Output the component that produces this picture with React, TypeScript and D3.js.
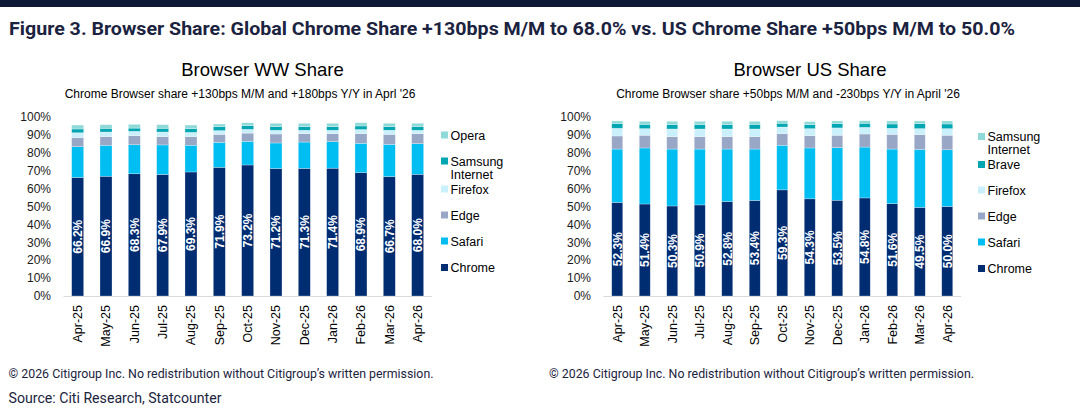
import React from 'react'
import * as d3 from 'd3'

// months on the x axis (same for both panels)
const months = ['Apr-25', 'May-25', 'Jun-25', 'Jul-25', 'Aug-25', 'Sep-25', 'Oct-25', 'Nov-25', 'Dec-25', 'Jan-26', 'Feb-26', 'Mar-26', 'Apr-26']

// worldwide share, %
const wwChrome = [66.2, 66.9, 68.3, 67.9, 69.3, 71.9, 73.2, 71.2, 71.3, 71.4, 68.9, 66.7, 68.0]
const wwSafari = [17.2, 17.3, 16.2, 16.5, 14.9, 13.9, 13.2, 14.3, 14.7, 14.8, 16.4, 18.0, 17.1]
const wwEdge = [5.1, 4.8, 5.1, 4.6, 4.8, 4.5, 4.6, 5.0, 4.7, 4.5, 5.4, 5.6, 5.6]
const wwFirefox = [2.7, 2.6, 2.4, 2.6, 2.4, 2.1, 2.1, 2.1, 1.9, 1.9, 2.3, 2.3, 1.9]
const wwSamsung = [2.1, 2.1, 1.8, 2.1, 2.1, 2.2, 2.1, 2.0, 2.0, 2.0, 2.0, 2.0, 2.0]
const wwOpera = [2.2, 2.0, 2.1, 2.0, 2.0, 1.5, 1.6, 1.9, 1.9, 1.9, 1.8, 1.9, 1.9]

// US share, %
const usChrome = [52.3, 51.4, 50.3, 50.9, 52.8, 53.4, 59.3, 54.3, 53.5, 54.8, 51.6, 49.5, 50.0]
const usSafari = [29.8, 31.3, 31.8, 31.2, 29.3, 28.7, 24.9, 28.4, 29.4, 28.4, 30.5, 32.4, 31.7]
const usEdge = [7.3, 7.1, 6.9, 6.9, 6.9, 6.9, 6.5, 6.9, 6.9, 7.3, 8.2, 8.2, 8.1]
const usFirefox = [4.3, 3.7, 4.3, 4.3, 4.3, 4.3, 3.7, 3.9, 4.1, 3.7, 3.4, 3.4, 3.7]
const usBrave = [2.6, 2.4, 2.4, 2.4, 2.4, 2.6, 2.1, 2.2, 2.4, 2.3, 2.4, 2.8, 2.6]
const usSamsung = [1.5, 1.7, 1.9, 1.9, 1.9, 1.7, 1.4, 1.7, 1.5, 1.4, 1.7, 1.5, 1.7]

const C = {
  chrome: '#002D72',
  safari: '#00BDF2',
  edge: '#99A7C7',
  firefox: '#C9F0FB',
  teal: '#00A7B2',
  lightTeal: '#8FDAD8',
}

type Series = { key: string; label: string[]; color: string; values: number[] }

const wwSeries: Series[] = [
  { key: 'chrome', label: ['Chrome'], color: C.chrome, values: wwChrome },
  { key: 'safari', label: ['Safari'], color: C.safari, values: wwSafari },
  { key: 'edge', label: ['Edge'], color: C.edge, values: wwEdge },
  { key: 'firefox', label: ['Firefox'], color: C.firefox, values: wwFirefox },
  { key: 'samsung', label: ['Samsung', 'Internet'], color: C.teal, values: wwSamsung },
  { key: 'opera', label: ['Opera'], color: C.lightTeal, values: wwOpera },
]

const usSeries: Series[] = [
  { key: 'chrome', label: ['Chrome'], color: C.chrome, values: usChrome },
  { key: 'safari', label: ['Safari'], color: C.safari, values: usSafari },
  { key: 'edge', label: ['Edge'], color: C.edge, values: usEdge },
  { key: 'firefox', label: ['Firefox'], color: C.firefox, values: usFirefox },
  { key: 'brave', label: ['Brave'], color: C.teal, values: usBrave },
  { key: 'samsung', label: ['Samsung', 'Internet'], color: C.lightTeal, values: usSamsung },
]

const arial = 'Liberation Sans, Arial, sans-serif'
const y = d3.scaleLinear().domain([0, 100]).range([296, 117])

const StackChart = (props: {
  series: Series[]
  range: [number, number]
  pad: number
  tickX: number
  legendX: number
  legendYs: number[]
  title: string
  titleX: number
  sub: string
  subX: number
}) => {
  const { series } = props
  const x = d3.scaleBand<string>().domain(months).range(props.range)
    .paddingInner(props.pad).paddingOuter(props.pad / 2)

  const rows = months.map((m, i) => {
    const r: any = { month: m }
    series.forEach(s => { r[s.key] = s.values[i] })
    return r
  })
  const stacked = d3.stack<any>().keys(series.map(s => s.key))(rows)
  const chrome = series[0]

  return (
    <g>
      <text x={props.titleX} y={76} textAnchor="middle" fontFamily={arial} fontSize={18.5} fill="#000">{props.title}</text>
      <text x={props.subX} y={98} textAnchor="middle" fontFamily={arial} fontSize={12} fill="#000">{props.sub}</text>

      {y.ticks(10).map(t => (
        <text key={t} x={props.tickX} y={y(t)} dy="0.35em" textAnchor="end" fontFamily={arial} fontSize={12} fill="#1a1a1a">{t}%</text>
      ))}
      <line x1={props.range[0]} x2={props.range[1]} y1={y(0) + 0.5} y2={y(0) + 0.5} stroke="#d9d9d9" strokeWidth={1} />

      {stacked.map((layer, li) => (
        <g key={layer.key} fill={series[li].color}>
          {layer.map((d, i) => (
            <rect key={i} x={x(months[i])} width={x.bandwidth()} y={y(d[1])} height={y(d[0]) - y(d[1])}
              stroke="#ffffff" strokeOpacity={0.45} strokeWidth={0.6} />
          ))}
        </g>
      ))}

      {chrome.values.map((v, i) => {
        const cx = (x(months[i]) as number) + x.bandwidth() / 2
        const cy = y(v / 2)
        return (
          <text key={i} transform={`translate(${cx},${cy}) rotate(-90)`} textAnchor="middle" dy="0.36em"
            fontFamily={arial} fontSize={12} fontWeight={700} fill="#fff">{v.toFixed(1)}%</text>
        )
      })}

      {months.map(m => {
        const cx = (x(m) as number) + x.bandwidth() / 2
        return (
          <text key={m} transform={`translate(${cx},305) rotate(-90)`} textAnchor="end" dy="0.36em"
            fontFamily={arial} fontSize={12.5} fill="#000">{m}</text>
        )
      })}

      {series.slice().reverse().map((s, i) => {
        const ly = props.legendYs[i]
        return (
          <g key={s.key}>
            <rect x={props.legendX} y={ly - 3.5} width={7} height={7} fill={s.color} />
            {s.label.map((l, j) => (
              <text key={j} x={props.legendX + 9.5} y={ly + j * 13} dy="0.36em" fontFamily={arial} fontSize={12.5} fill="#000">{l}</text>
            ))}
          </g>
        )
      })}
    </g>
  )
}

const App = () => {
  const ink = '#1B2340'
  return (
    <svg width={1080} height={408} style={{ position: 'absolute', left: 0, top: 0, background: '#fff' }}>
      <rect x={0} y={0} width={1080} height={7} fill="#0E1837" />
      <text x={9} y={35} fontFamily="Roboto, sans-serif" fontWeight={700} fontSize={19} fill={ink}
        textLength={1006} lengthAdjust="spacingAndGlyphs">
        Figure 3. Browser Share: Global Chrome Share +130bps M/M to 68.0% vs. US Chrome Share +50bps M/M to 50.0%
      </text>

      <StackChart series={wwSeries} range={[63.5, 431.8]} pad={0.576} tickX={51} legendX={441}
        legendYs={[135, 161, 189, 215, 241, 267.5]}
        title="Browser WW Share" titleX={262.5} sub="Chrome Browser share +130bps M/M and +180bps Y/Y in Aprl '26" subX={240} />
      <StackChart series={usSeries} range={[603.5, 961]} pad={0.6} tickX={591} legendX={978}
        legendYs={[136.5, 164.5, 190, 216, 242, 268.5]}
        title="Browser US Share" titleX={810} sub="Chrome Browser share +50bps M/M and -230bps Y/Y in April '26" subX={788} />

      <text x={8.5} y={378} fontFamily="Roboto, sans-serif" fontSize={13} fill={ink} textLength={425} lengthAdjust="spacingAndGlyphs">
        © 2026 Citigroup Inc. No redistribution without Citigroup’s written permission.
      </text>
      <text x={549} y={378} fontFamily="Roboto, sans-serif" fontSize={13} fill={ink} textLength={425} lengthAdjust="spacingAndGlyphs">
        © 2026 Citigroup Inc. No redistribution without Citigroup’s written permission.
      </text>
      <text x={8.5} y={403} fontFamily="Roboto, sans-serif" fontSize={15} fill={ink} textLength={213} lengthAdjust="spacingAndGlyphs">
        Source: Citi Research, Statcounter
      </text>
    </svg>
  )
}

export default App
